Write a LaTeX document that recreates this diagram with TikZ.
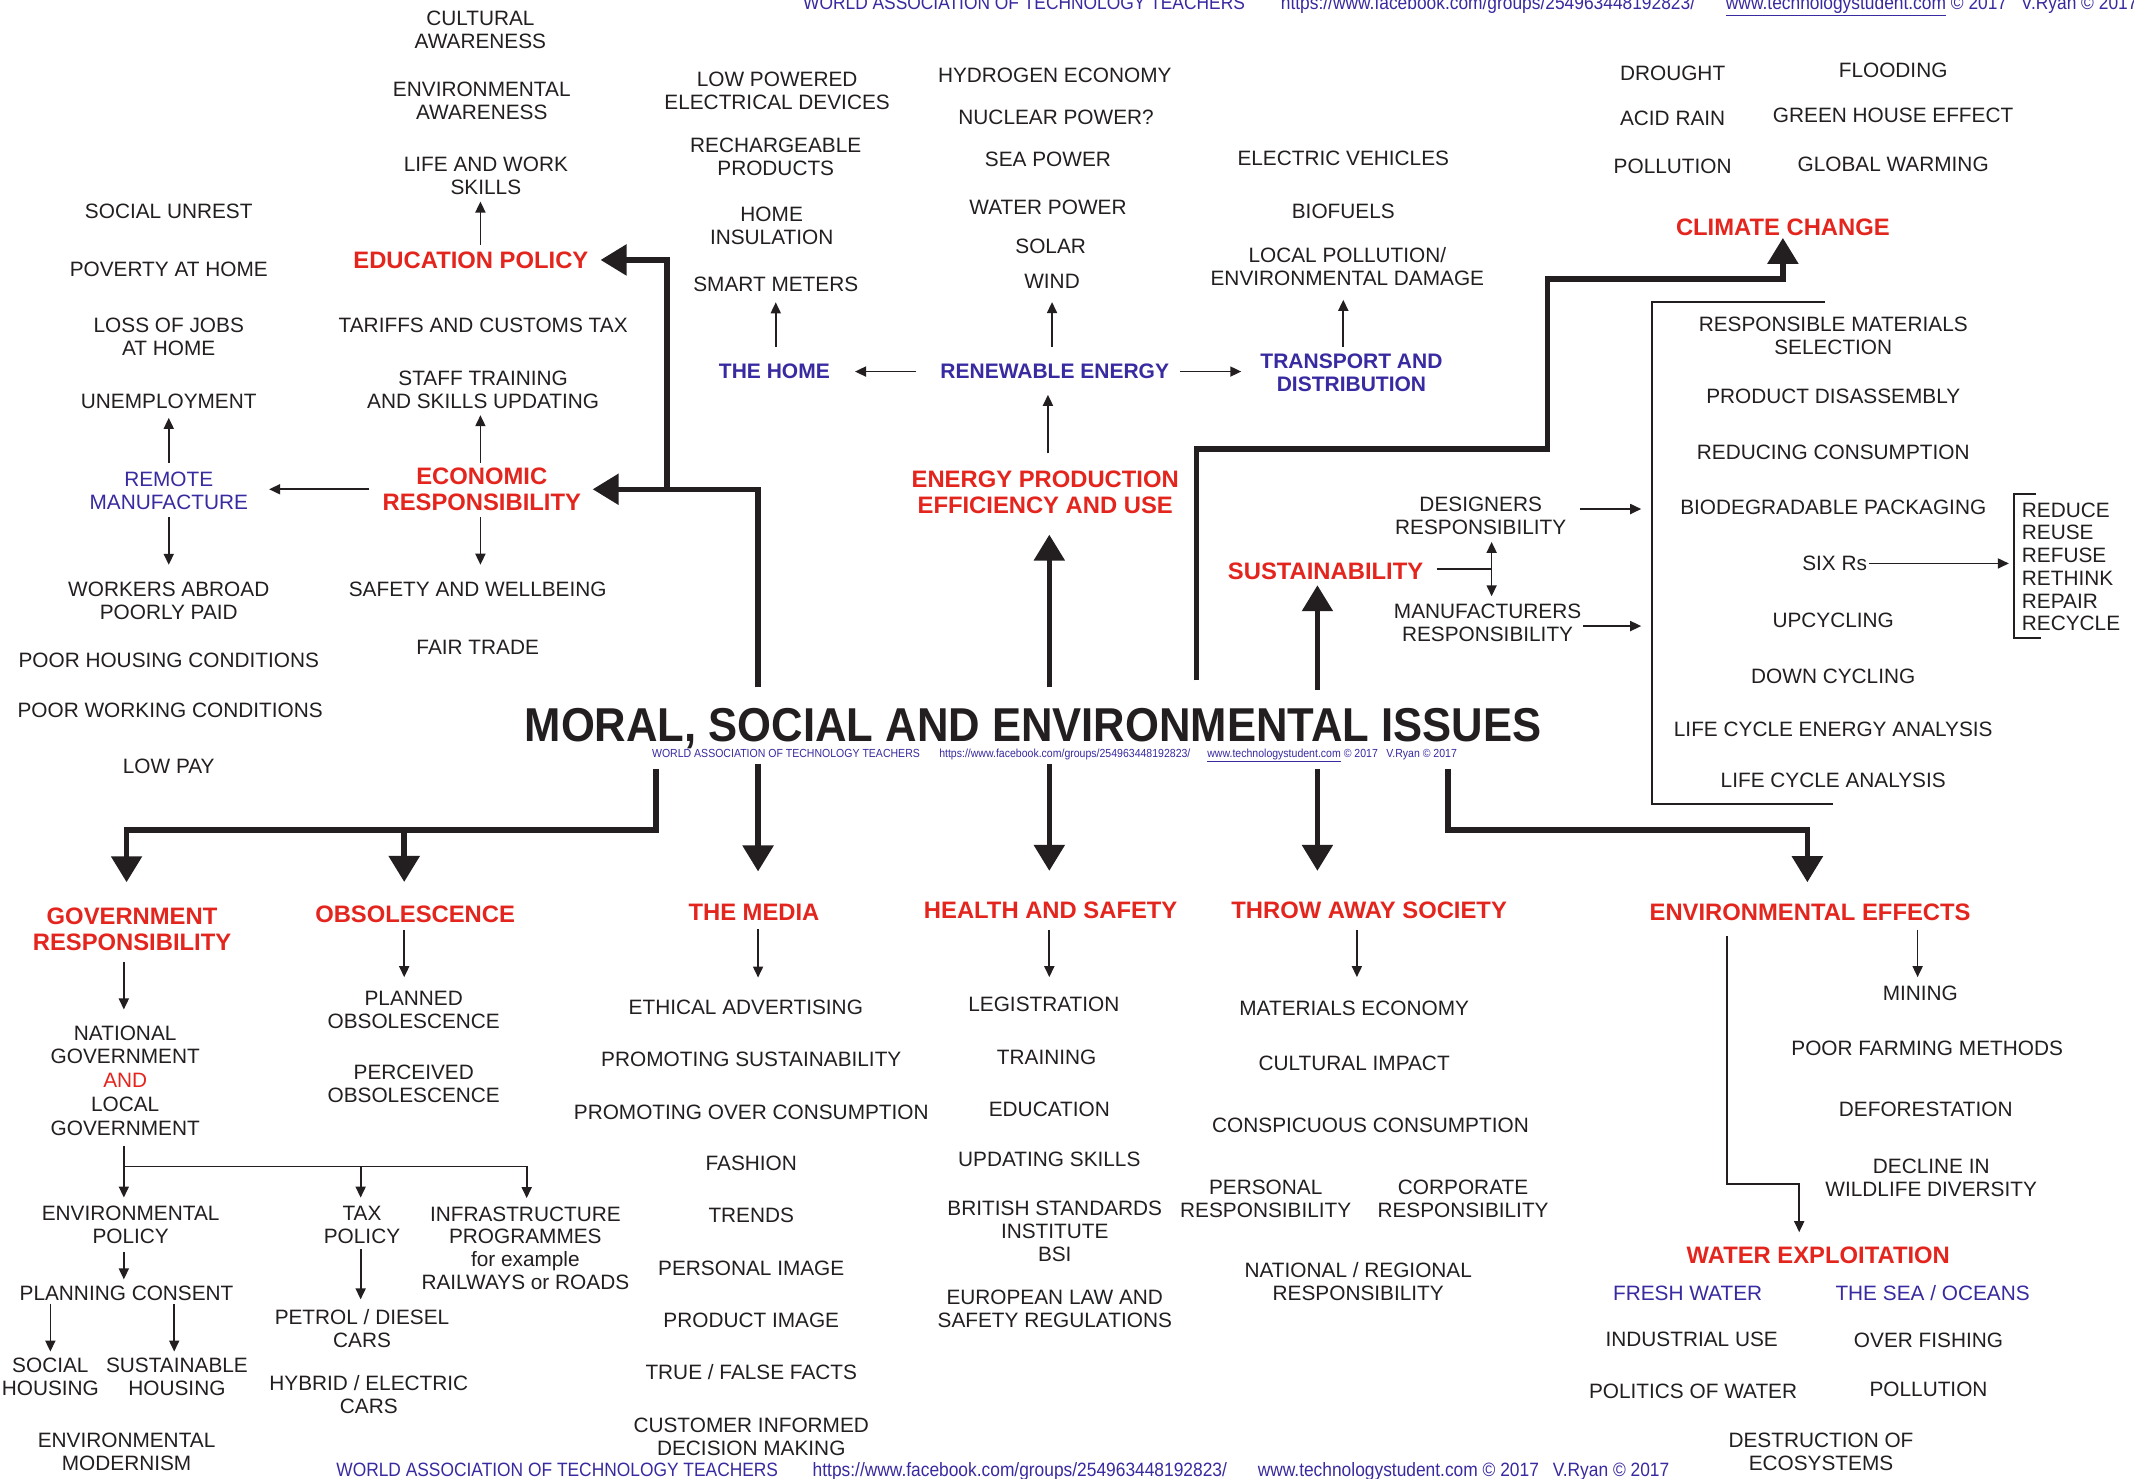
\documentclass[tikz,border=0pt]{standalone}
\usepackage{fontspec}
\setmainfont{Liberation Sans}
\usepackage{graphicx}
\usetikzlibrary{arrows.meta,calc}
\definecolor{myred}{RGB}{228,37,30}
\definecolor{myblue}{RGB}{56,42,160}
\definecolor{ink}{RGB}{35,31,32}
\newcommand\credA{WORLD ASSOCIATION OF TECHNOLOGY TEACHERS}
\newcommand\credB{https://www.facebook.com/groups/254963448192823/}
\newcommand\credC{\underline{www.technologystudent.com} © 2017\hspace{0.8em}V.Ryan © 2017}
\begin{document}
\begin{tikzpicture}[x=1.361pt,y=-1.361pt,
  txt/.style={font=\fontsize{20.8}{23}\selectfont, text=ink, align=center, inner sep=2pt},
  redh/.style={font=\bfseries\fontsize{23.8}{26}\selectfont, text=myred, align=center, inner sep=2pt},
  blh/.style={font=\bfseries\fontsize{21}{23}\selectfont, text=myblue, align=center, inner sep=2pt},
  bltxt/.style={txt, text=myblue},
  arr/.style={draw=ink, line width=1.7pt, -{Triangle[length=11pt,width=10pt]}},
  plain/.style={draw=ink, line width=1.7pt},
  bigl/.style={draw=ink, line width=5.5pt, line join=miter},
  bigarr/.style={bigl, -{Triangle[length=26pt,width=30pt]}},
  brk/.style={draw=ink, line width=2pt},
  cred/.style={text=myblue, inner sep=0pt, anchor=base west},
  credbig/.style={cred, font=\fontsize{19.3}{20}\selectfont},
  credsmall/.style={cred, font=\fontsize{11.7}{12}\selectfont},
]
\useasboundingbox[fill=white] (0,0) rectangle (1568,1086);

% ---------- credits ----------
\node[credbig] (hA) at (590,7) {\scalebox{0.9}[1]{\credA}};
\node[credbig] (hB) at (941,7) {\scalebox{0.9}[1]{\credB}};
\node[credbig] (hC) at (1268,7) {\scalebox{0.9}[1]{\credC}};
\node[credbig] (fA) at (247,1085) {\scalebox{0.9}[1]{\credA}};
\node[credbig] (fB) at (597,1085) {\scalebox{0.9}[1]{\credB}};
\node[credbig] (fC) at (924,1085) {\scalebox{0.9}[1]{\credC}};
\node[credsmall] (mA) at (479,556.5) {\scalebox{0.9}[1]{\credA}};
\node[credsmall] (mB) at (690,556.5) {\scalebox{0.9}[1]{\credB}};
\node[credsmall] (mC) at (887,556.5) {\scalebox{0.9}[1]{\credC}};

% ---------- title ----------
\node[font=\bfseries\fontsize{43.6}{46}\selectfont, text=ink, inner sep=0pt, anchor=base] (title) at (759,545) {\scalebox{1}[1.09]{MORAL, SOCIAL AND ENVIRONMENTAL ISSUES}};

% ---------- left column ----------
\node[txt] (unrest) at (124,155) {SOCIAL UNREST};
\node[txt] (poverty) at (124,198) {POVERTY AT HOME};
\node[txt] (lossjobs) at (124,247.5) {LOSS OF JOBS\\AT HOME};
\node[txt] (unemp) at (124,295) {UNEMPLOYMENT};
\node[bltxt] (remote) at (124,360.5) {REMOTE\\MANUFACTURE};
\node[txt] (workers) at (124,441.5) {WORKERS ABROAD\\POORLY PAID};
\node[txt] (housing) at (124,485) {POOR HOUSING CONDITIONS};
\node[txt] (working) at (125,522) {POOR WORKING CONDITIONS};
\node[txt] (lowpay) at (124,563) {LOW PAY};

% ---------- second column ----------
\node[txt] (cultural) at (353,22) {CULTURAL\\AWARENESS};
\node[txt] (envaware) at (354,74) {ENVIRONMENTAL\\AWARENESS};
\node[txt] (lifework) at (357,129.5) {LIFE AND WORK\\SKILLS};
\node[redh] (edu) at (346,191) {EDUCATION POLICY};
\node[txt] (tariffs) at (355,239) {TARIFFS AND CUSTOMS TAX};
\node[txt] (staff) at (355,286.5) {STAFF TRAINING\\AND SKILLS UPDATING};
\node[redh] (econ) at (354,359.5) {ECONOMIC\\RESPONSIBILITY};
\node[txt] (safety) at (351,433) {SAFETY AND WELLBEING};
\node[txt] (fair) at (351,476) {FAIR TRADE};

% ---------- the home ----------
\node[txt] (lowpow) at (571,67) {LOW POWERED\\ELECTRICAL DEVICES};
\node[txt] (recharge) at (570,115) {RECHARGEABLE\\PRODUCTS};
\node[txt] (insul) at (567,166) {HOME\\INSULATION};
\node[txt] (smart) at (570,209) {SMART METERS};
\node[blh] (home) at (569,273) {THE HOME};

% ---------- energy ----------
\node[txt] (hydrogen) at (775,55) {HYDROGEN ECONOMY};
\node[txt] (nuclear) at (776,86) {NUCLEAR POWER?};
\node[txt] (seapow) at (770,117) {SEA POWER};
\node[txt] (waterpow) at (770,152) {WATER POWER};
\node[txt] (solar) at (772,181) {SOLAR};
\node[txt] (wind) at (773,207) {WIND};
\node[blh] (renew) at (775,273) {RENEWABLE ENERGY};
\node[redh] (energy) at (768,361.5) {ENERGY PRODUCTION\\EFFICIENCY AND USE};

% ---------- transport ----------
\node[txt] (evs) at (987,116) {ELECTRIC VEHICLES};
\node[txt] (biofuels) at (987,155) {BIOFUELS};
\node[txt] (localpol) at (990,196) {LOCAL POLLUTION/\\ENVIRONMENTAL DAMAGE};
\node[blh] (transport) at (993,274) {TRANSPORT AND\\DISTRIBUTION};

% ---------- climate ----------
\node[txt] (drought) at (1229,54) {DROUGHT};
\node[txt] (flooding) at (1391,52) {FLOODING};
\node[txt] (acid) at (1229,87) {ACID RAIN};
\node[txt] (greenhouse) at (1391,85) {GREEN HOUSE EFFECT};
\node[txt] (pollution) at (1229,122) {POLLUTION};
\node[txt] (warming) at (1391,121) {GLOBAL WARMING};
\node[redh] (climate) at (1310,167) {CLIMATE CHANGE};

% ---------- sustainability ----------
\node[redh] (sust) at (974,420) {SUSTAINABILITY};
\node[txt] (designers) at (1088,379) {DESIGNERS\\RESPONSIBILITY};
\node[txt] (manuf) at (1093,458) {MANUFACTURERS\\RESPONSIBILITY};

\node[txt] (rms) at (1347,246.5) {RESPONSIBLE MATERIALS\\SELECTION};
\node[txt] (disas) at (1347,291) {PRODUCT DISASSEMBLY};
\node[txt] (reducing) at (1347,332) {REDUCING CONSUMPTION};
\node[txt] (biodeg) at (1347,373) {BIODEGRADABLE PACKAGING};
\node[txt] (sixrs) at (1348,414) {SIX Rs};
\node[txt] (upcycling) at (1347,456) {UPCYCLING};
\node[txt] (downcycling) at (1347,497) {DOWN CYCLING};
\node[txt] (lcea) at (1347,536) {LIFE CYCLE ENERGY ANALYSIS};
\node[txt] (lca) at (1347,573) {LIFE CYCLE ANALYSIS};
\node[txt, align=left, anchor=west, font=\fontsize{20.8}{22.7}\selectfont] (sixlist) at (1484,416.5) {REDUCE\\REUSE\\REFUSE\\RETHINK\\REPAIR\\RECYCLE};

% ---------- government ----------
\node[redh] (gov) at (97,682.5) {GOVERNMENT\\RESPONSIBILITY};
\node[txt, font=\fontsize{20.8}{23.8}\selectfont] (national) at (92,794) {NATIONAL\\GOVERNMENT\\{\color{myred}AND}\\LOCAL\\GOVERNMENT};
\node[txt] (envpol) at (96,900) {ENVIRONMENTAL\\POLICY};
\node[txt] (planning) at (93,950) {PLANNING CONSENT};
\node[txt] (social) at (37,1011.5) {SOCIAL\\HOUSING};
\node[txt] (sustain) at (130,1011.5) {SUSTAINABLE\\HOUSING};
\node[txt] (modern) at (93,1066.5) {ENVIRONMENTAL\\MODERNISM};
\node[txt] (tax) at (266,900) {TAX\\POLICY};
\node[txt] (petrol) at (266,976) {PETROL / DIESEL\\CARS};
\node[txt] (hybrid) at (271,1024.5) {HYBRID / ELECTRIC\\CARS};
\node[txt, font=\fontsize{20.8}{22.7}\selectfont] (infra) at (386,917) {INFRASTRUCTURE\\PROGRAMMES\\for example\\RAILWAYS or ROADS};

% ---------- obsolescence ----------
\node[redh] (obs) at (305,672) {OBSOLESCENCE};
\node[txt] (planned) at (304,742) {PLANNED\\OBSOLESCENCE};
\node[txt] (perceived) at (304,796) {PERCEIVED\\OBSOLESCENCE};

% ---------- media ----------
\node[redh] (media) at (554,670) {THE MEDIA};
\node[txt] (ethical) at (548,740) {ETHICAL ADVERTISING};
\node[txt] (promsust) at (552,778) {PROMOTING SUSTAINABILITY};
\node[txt] (promover) at (552,817) {PROMOTING OVER CONSUMPTION};
\node[txt] (fashion) at (552,855) {FASHION};
\node[txt] (trends) at (552,893) {TRENDS};
\node[txt] (persimage) at (552,932) {PERSONAL IMAGE};
\node[txt] (prodimage) at (552,970) {PRODUCT IMAGE};
\node[txt] (truefalse) at (552,1008) {TRUE / FALSE FACTS};
\node[txt] (customer) at (552,1055.5) {CUSTOMER INFORMED\\DECISION MAKING};

% ---------- health and safety ----------
\node[redh] (health) at (772,669) {HEALTH AND SAFETY};
\node[txt] (legis) at (767,738) {LEGISTRATION};
\node[txt] (training) at (769,777) {TRAINING};
\node[txt] (education) at (771,815) {EDUCATION};
\node[txt] (updating) at (771,852) {UPDATING SKILLS};
\node[txt] (bsi) at (775,904.5) {BRITISH STANDARDS\\INSTITUTE\\BSI};
\node[txt] (european) at (775,962) {EUROPEAN LAW AND\\SAFETY REGULATIONS};

% ---------- throw away society ----------
\node[redh] (throw) at (1006,669) {THROW AWAY SOCIETY};
\node[txt] (materials) at (995,741) {MATERIALS ECONOMY};
\node[txt] (cultimpact) at (995,781) {CULTURAL IMPACT};
\node[txt] (conspicuous) at (1007,827) {CONSPICUOUS CONSUMPTION};
\node[txt] (personal) at (930,880.5) {PERSONAL\\RESPONSIBILITY};
\node[txt] (corporate) at (1075,880.5) {CORPORATE\\RESPONSIBILITY};
\node[txt] (natreg) at (998,941.5) {NATIONAL / REGIONAL\\RESPONSIBILITY};

% ---------- environmental effects ----------
\node[redh] (envfx) at (1330,670) {ENVIRONMENTAL EFFECTS};
\node[txt] (mining) at (1411,730) {MINING};
\node[txt] (farming) at (1416,770) {POOR FARMING METHODS};
\node[txt] (defor) at (1415,815) {DEFORESTATION};
\node[txt] (decline) at (1419,865.5) {DECLINE IN\\WILDLIFE DIVERSITY};
\node[redh] (waterx) at (1336,922) {WATER EXPLOITATION};
\node[bltxt] (fresh) at (1240,950) {FRESH WATER};
\node[bltxt] (seaoc) at (1420,950) {THE SEA / OCEANS};
\node[txt] (industrial) at (1243,984) {INDUSTRIAL USE};
\node[txt] (overfish) at (1417,985) {OVER FISHING};
\node[txt] (politics) at (1244,1022) {POLITICS OF WATER};
\node[txt] (pollution2) at (1417,1021) {POLLUTION};
\node[txt] (destruct) at (1338,1066.5) {DESTRUCTION OF\\ECOSYSTEMS};

% ---------- column coordinates ----------
\coordinate (xB) at (353,0);
\coordinate (xH) at (570,0);
\coordinate (xR) at (773,0);
\coordinate (xE) at (770,0);
\coordinate (xT) at (987,0);
\coordinate (xG) at (91,0);
\coordinate (xGL) at (93,0);
\coordinate (xX) at (265,0);
\coordinate (xI) at (387,0);
\coordinate (xS2) at (128,0);
\coordinate (xW) at (997,0);
\coordinate (xM) at (1409,0);

% ---------- thick connectors ----------
\coordinate (tL) at (557,505);
\coordinate (jE) at (490,359.5);
\draw[bigarr,shorten >=9.5pt] (tL) |- (econ.east);
\draw[bigarr,shorten >=10pt] (jE) |- (edu.east);
\coordinate (tM) at (771,505);
\draw[bigarr,shorten >=19pt] (tM) -- (tM |- energy.south);
\coordinate (tR) at (879,500);
\coordinate (c1) at (1137,330);
\coordinate (c2) at (1310,205);
\draw[bigarr] (tR) |- (c1) |- (c2) -- (climate.south);
\coordinate (tS) at (968,507);
\draw[bigarr,shorten >=3pt] (tS) -- (tS |- sust.south);

\coordinate (bL) at (482,565);
\coordinate (jL) at (297,610);
\draw[bigarr,shorten >=23pt] (bL) |- (jL) -| (xGL |- gov.north);
\draw[bigarr,shorten >=22pt] (jL) -- (jL |- obs.north);
\coordinate (bM) at (557,561);
\draw[bigarr,shorten >=30pt] (bM) -- (bM |- media.north);
\coordinate (bH) at (771,561);
\draw[bigarr,shorten >=29pt] (bH) -- (bH |- health.north);
\coordinate (bT) at (968,565);
\draw[bigarr,shorten >=29pt] (bT) -- (bT |- throw.north);
\coordinate (bR) at (1064,565);
\coordinate (jR) at (1328,610);
\draw[bigarr,shorten >=19pt] (bR) |- (jR) -- (jR |- envfx.north);

% ---------- thin arrows, top half ----------
\draw[arr,shorten <=6.8pt,shorten >=6.8pt] (remote.north) -- (remote.north |- unemp.south);
\draw[arr,shorten <=11pt,shorten >=19pt] (econ.west) -- (econ.west -| remote.east);
\draw[arr,shorten <=5.4pt,shorten >=15pt] (remote.south) -- (remote.south |- workers.north);
\draw[arr,shorten <=3pt,shorten >=4.2pt] (xB |- econ.north) -- (xB |- staff.south);
\draw[arr,shorten <=4.4pt,shorten >=15pt] (xB |- econ.south) -- (xB |- safety.north);
\draw[arr,shorten <=4.5pt,shorten >=4.2pt] (xB |- edu.north) -- (xB |- lifework.south);
\draw[arr,shorten <=15pt,shorten >=8.3pt] (xH |- home.north) -- (xH |- smart.south);
\draw[arr,shorten <=22pt,shorten >=23pt] (renew.west) -- (renew.west -| home.east);
\draw[arr,shorten <=15pt,shorten >=11pt] (xR |- renew.north) -- (xR |- wind.south);
\draw[arr,shorten <=9pt,shorten >=17pt] (renew.east) -- (renew.east -| transport.west);
\draw[arr,shorten <=15pt,shorten >=13.6pt] (xE |- energy.north) -- (xE |- renew.south);
\draw[arr,shorten <=5pt,shorten >=11.7pt] (xT |- transport.north) -- (xT |- localpol.south);

% ---------- sustainability links ----------
\coordinate (sj) at (1096,418);
\draw[plain,shorten <=11.5pt] (sust.east |- sj) -- (sj);
\draw[arr,shorten >=5pt] (sj) -- (sj |- designers.south);
\draw[arr,shorten >=6pt] (sj) -- (sj |- manuf.north);

\coordinate (bkt) at (1214,222);
\coordinate (bktr) at (1341,222);
\coordinate (bkb) at (1214,591);
\coordinate (bkbr) at (1347,591);
\draw[brk] (bktr) -- (bkt) -- (bkb) -- (bkbr);
\coordinate (da) at ($(designers.east)+(0,-5)$);
\coordinate (ma) at ($(manuf.east)+(0,2)$);
\draw[arr,shorten <=12pt,shorten >=11pt] (da) -- (da -| bkt);
\draw[arr,shorten >=11pt] (ma) -- (ma -| bkt);

\coordinate (srt) at (1480,363);
\coordinate (srtr) at (1496,363);
\coordinate (srb) at (1480,469);
\coordinate (srbr) at (1500,469);
\draw[brk] (srtr) -- (srt) -- (srb) -- (srbr);
\draw[arr,shorten >=5.4pt] (sixrs.east) -- (sixrs.east -| srt);

% ---------- thin arrows, bottom half ----------
\draw[arr,shorten <=9.8pt,shorten >=14pt] (xG |- gov.south) -- (xG |- national.north);
\draw[arr,shorten <=8pt,shorten >=6.3pt] (xG |- national.south) -- (xG |- envpol.north);
\coordinate (gb) at (91,857);
\draw[plain] (gb) -- (xI |- gb);
\draw[arr,shorten >=6.3pt] (xX |- gb) -- (xX |- tax.north);
\draw[arr,shorten >=6.3pt] (xI |- gb) -- (xI |- infra.north);
\draw[arr,shorten <=6.3pt,shorten >=4pt] (xG |- envpol.south) -- (xG |- planning.north);
\draw[arr,shorten <=1.4pt,shorten >=4pt] (social.north |- planning.south) -- (social.north);
\draw[arr,shorten <=1.4pt,shorten >=4pt] (xS2 |- planning.south) -- (xS2 |- sustain.north);
\draw[arr,shorten <=3.5pt,shorten >=7.6pt] (xX |- tax.south) -- (xX |- petrol.north);

\draw[arr,shorten <=4.5pt,shorten >=11.7pt] (jL |- obs.south) -- (jL |- planned.north);
\draw[arr,shorten <=7.2pt,shorten >=20pt] (bM |- media.south) -- (bM |- ethical.north);
\draw[arr,shorten <=8.6pt,shorten >=17.7pt] (bH |- health.south) -- (bH |- legis.north);
\draw[arr,shorten <=8.6pt,shorten >=21.8pt] (xW |- throw.south) -- (xW |- materials.north);
\draw[arr,shorten <=7.2pt,shorten >=6.8pt] (xM |- envfx.south) -- (xM |- mining.north);

\coordinate (wa) at (1269,870);
\coordinate (wb) at (1322,870);
\draw[arr,shorten <=14pt,shorten >=12pt] (wa |- envfx.south) -- (wa) -- (wb) -- (wb |- waterx.north);
\end{tikzpicture}
\end{document}
